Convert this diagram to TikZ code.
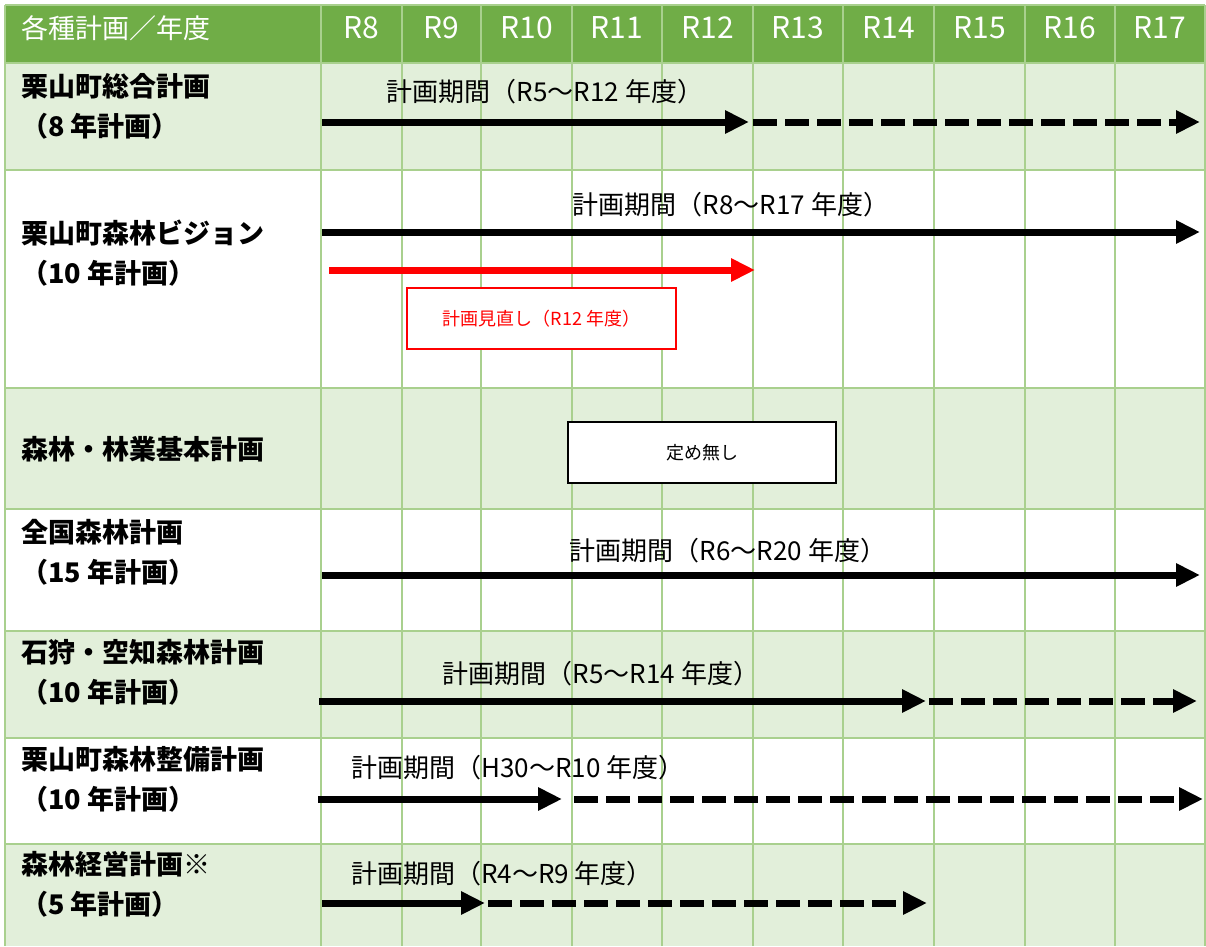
\documentclass[tikz,border=0pt]{standalone}
\usepackage{fontspec}
\setmainfont{Noto Sans CJK JP}
\usepackage{tikz}
\usetikzlibrary{arrows.meta}
\definecolor{hdgreen}{HTML}{70AD47}
\definecolor{rowgreen}{HTML}{E2EFDA}
\definecolor{gridgreen}{HTML}{A9D08E}
\def\planbar{\draw[-{Triangle[length=18pt, width=16.5pt]}, line width=5.25pt]}
\def\planrest{\draw[-{Triangle[length=18pt, width=16.5pt]}, line width=5.25pt, dash pattern=on 18pt off 6pt]}

\begin{document}
\begin{tikzpicture}[x=0.75pt, y=-0.75pt,
    planname/.style={anchor=west, inner sep=0pt, align=left, font=\bfseries\fontsize{20.25pt}{30pt}\selectfont},
    term/.style={inner sep=0pt, font=\fontsize{19.5pt}{24pt}\selectfont},
    head/.style={text=white, inner sep=0pt, font=\fontsize{22.5pt}{26pt}\selectfont},
    note/.style={draw, line width=1.5pt, fill=white, minimum width=201.5pt, minimum height=45.75pt, inner sep=0pt, font=\fontsize{13.5pt}{16pt}\selectfont},
    gridline/.style={draw=gridgreen, line width=1.5pt}]
            \useasboundingbox (0,0) rectangle (1206,946);
            % table background
            \fill[hdgreen] (5,5) rectangle (1205,63);
            \fill[rowgreen] (5,63) rectangle (1205,170);
            \fill[rowgreen] (5,388) rectangle (1205,509);
            \fill[rowgreen] (5,631) rectangle (1205,738);
            \fill[rowgreen] (5,844) rectangle (1205,946);
            \draw[gridline] (5,5) -- (1205,5) (5,63) -- (1205,63) (5,170) -- (1205,170)
                (5,388) -- (1205,388) (5,509) -- (1205,509) (5,631) -- (1205,631)
                (5,738) -- (1205,738) (5,844) -- (1205,844);
            \draw[gridline] (5,5) -- (5,946) (321,5) -- (321,946) (402,5) -- (402,946)
                (481,5) -- (481,946) (572,5) -- (572,946) (662,5) -- (662,946)
                (753,5) -- (753,946) (843,5) -- (843,946) (934,5) -- (934,946)
                (1025,5) -- (1025,946) (1115,5) -- (1115,946) (1205,5) -- (1205,946);

            % header
            \node [head, anchor=west, font=\fontsize{20.25pt}{24pt}\selectfont] (H0) at (21,28) {各種計画／年度};
            \node [head] (H8) at (361.5,28) {R8};
            \node [head] (H9) at (441.5,28) {R9};
            \node [head] (H10) at (526.5,28) {R10};
            \node [head] (H11) at (617,28) {R11};
            \node [head] (H12) at (707.5,28) {R12};
            \node [head] (H13) at (798,28) {R13};
            \node [head] (H14) at (888.5,28) {R14};
            \node [head] (H15) at (979.5,28) {R15};
            \node [head] (H16) at (1070,28) {R16};
            \node [head] (H17) at (1160,28) {R17};

            % plan names
            \node [planname] (L1) at (21,106) {栗山町総合計画\\（8 年計画）};
            \node [planname] (L2) at (21,253) {栗山町森林ビジョン\\（10 年計画）};
            \node [planname] (L3) at (21,449) {森林・林業基本計画};
            \node [planname] (L4) at (21,552) {全国森林計画\\（15 年計画）};
            \node [planname] (L5) at (21,672) {石狩・空知森林計画\\（10 年計画）};
            \node [planname] (L6) at (21,779) {栗山町森林整備計画\\（10 年計画）};
            \node [planname] (L7) at (21,884) {森林経営計画※\\（5 年計画）};

            % periods
            \node [term] (P1) at (545,92) {計画期間（R5～R12 年度）};
            \node [term] (P2) at (731,205) {計画期間（R8～R17 年度）};
            \node [term] (P4) at (728,551) {計画期間（R6～R20 年度）};
            \node [term] (P5) at (601,674) {計画期間（R5～R14 年度）};
            \node [term] (P6) at (518,768) {計画期間（H30～R10 年度）};
            \node [term] (P7) at (502,874) {計画期間（R4～R9 年度）};

            \coordinate (S1) at (322,122); \coordinate (E1) at (749,122);
            \coordinate (D1) at (753,122); \coordinate (F1) at (1200,122);
            \coordinate (S2) at (322,232); \coordinate (E2) at (1200,232);
            \coordinate (S2r) at (329,270); \coordinate (E2r) at (755,270);
            \coordinate (S4) at (322,575); \coordinate (E4) at (1200,575);
            \coordinate (S5) at (319,701); \coordinate (E5) at (926,701);
            \coordinate (D5) at (929,701); \coordinate (F5) at (1197,701);
            \coordinate (S6) at (318,799); \coordinate (E6) at (562,799);
            \coordinate (D6) at (574,799); \coordinate (F6) at (1203,799);
            \coordinate (S7) at (322,903); \coordinate (E7) at (485,903);
            \coordinate (D7) at (488,903); \coordinate (F7) at (927,903);

            \planbar (S1) -- (E1);
            \planrest (D1) -- (F1);
            \planbar (S2) -- (E2);
            \planbar[red] (S2r) -- (E2r);
            \planbar (S4) -- (E4);
            \planbar (S5) -- (E5);
            \planrest (D5) -- (F5);
            \planbar (S6) -- (E6);
            \planrest (D6) -- (F6);
            \planbar (S7) -- (E7);
            \planrest (D7) -- (F7);

            % boxes
            \node [note, draw=red, text=red] (R2) at (541.5,318.5) {計画見直し（R12 年度）};
            \node [note] (N3) at (702,452.5) {定め無し};
        \end{tikzpicture}
\end{document}
